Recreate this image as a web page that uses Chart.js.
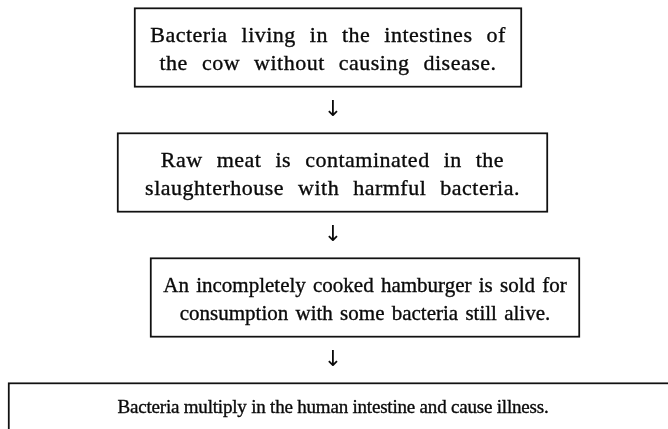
<!DOCTYPE html>
<html>
<head>
<meta charset="utf-8">
<script src="https://cdn.jsdelivr.net/npm/chart.js@4"></script>
<style>
  html, body { margin: 0; padding: 0; background: #fff; }
  #wrap { width: 668px; height: 429px; position: relative; }
</style>
</head>
<body>
<div id="wrap"><canvas id="chart"></canvas></div>
<script>
'use strict';

// flow steps, top to bottom
let stepText = [
  ['Bacteria living in the intestines of', 'the cow without causing disease.'],
  ['Raw meat is contaminated in the', 'slaughterhouse with harmful bacteria.'],
  ['An incompletely cooked hamburger is sold for', 'consumption with some bacteria still alive.'],
  ['Bacteria multiply in the human intestine and cause illness.']
];
let stepOrder = [1, 2, 3, 4];
let stepLeft = [134, 117, 150, 8];
let stepRight = [522, 548, 580, 720];

let boxes = [];
for (let i = 0; i < stepOrder.length; i++) {
  boxes.push({ x: [stepLeft[i], stepRight[i]], y: stepOrder[i] });
}

// text look per box (the scan is typeset a bit differently in each box)
const textStyle = [
  { size: 22, ls: 0.5, ws: 8, first: 29 },
  { size: 22, ls: 0.5, ws: 8, first: 29 },
  { size: 21, ls: 0, ws: 2, first: 29 },
  { size: 19, ls: -0.2, ws: 0, first: 26 }
];

// draws the step texts inside the boxes and the arrows between them
const flowText = {
  id: 'flowText',
  afterDatasetsDraw(chart) {
    const ctx = chart.ctx;
    const bars = chart.getDatasetMeta(0).data;
    ctx.save();
    ctx.fillStyle = '#0a0a0a';
    ctx.strokeStyle = '#0a0a0a';
    ctx.lineWidth = 0.35;
    ctx.textAlign = 'center';
    ctx.textBaseline = 'middle';
    for (let i = 0; i < bars.length; i++) {
      const b = bars[i];
      const st = textStyle[i];
      const top = b.y - b.height / 2;
      const mid = i < 3 ? (b.x + b.base) / 2 : 333;
      ctx.font = st.size + 'px "Liberation Serif", "DejaVu Serif", serif';
      ctx.letterSpacing = st.ls + 'px';
      ctx.wordSpacing = st.ws + 'px';
      const lines = stepText[i];
      for (let j = 0; j < lines.length; j++) {
        ctx.fillText(lines[j], mid, top + st.first + j * 28);
        ctx.strokeText(lines[j], mid, top + st.first + j * 28);
      }
      if (i < bars.length - 1) {
        const bottom = b.y + b.height / 2;
        const nextTop = bars[i + 1].y - bars[i + 1].height / 2;
        ctx.letterSpacing = '0px';
        ctx.wordSpacing = '0px';
        ctx.font = '22px "DejaVu Sans", sans-serif';
        ctx.fillText('\u2193', 333, (bottom + nextTop) / 2);
      }
    }
    ctx.restore();
  }
};

const ctx = document.getElementById('chart');

let config = {
  type: 'bar',
  data: {
    datasets: [
      {
        data: boxes,
        backgroundColor: '#ffffff',
        borderColor: '#111111',
        borderWidth: 2,
        borderSkipped: false,
        barThickness: 80
      }
    ]
  },
  options: {
    indexAxis: 'y',
    responsive: true,
    maintainAspectRatio: false,
    animation: false,
    layout: { padding: 0 },
    plugins: {
      legend: { display: false },
      tooltip: { enabled: false }
    },
    scales: {
      x: { type: 'linear', min: 0, max: 668, display: false },
      y: { type: 'linear', min: 0.62, max: 4.052, reverse: true, offset: false, display: false }
    }
  },
  plugins: [flowText]
};

new Chart(ctx, config);
</script>
</body>
</html>
